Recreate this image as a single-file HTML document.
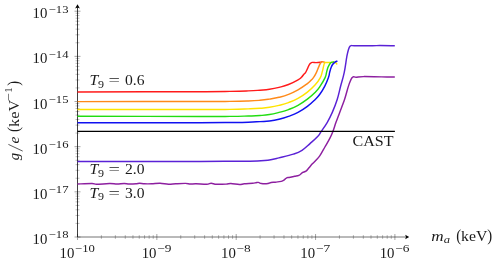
<!DOCTYPE html><html><head><meta charset="utf-8"><style>html,body{margin:0;padding:0;background:#fff}svg{display:block;will-change:transform}text{font-family:"Liberation Serif",serif;fill:#1a1a1a}</style></head><body>
<svg width="498" height="263" viewBox="0 0 498 263">
<rect width="498" height="263" fill="#fff"/>
<path d="M75.50 223.41H79.50M75.50 215.45H79.50M75.50 209.81H79.50M75.50 205.43H79.50M75.50 201.86H79.50M75.50 198.84H79.50M75.50 196.22H79.50M75.50 193.91H79.50M75.50 178.25H79.50M75.50 170.29H79.50M75.50 164.65H79.50M75.50 160.27H79.50M75.50 156.70H79.50M75.50 153.68H79.50M75.50 151.06H79.50M75.50 148.75H79.50M75.50 133.09H79.50M75.50 125.13H79.50M75.50 119.49H79.50M75.50 115.11H79.50M75.50 111.54H79.50M75.50 108.52H79.50M75.50 105.90H79.50M75.50 103.59H79.50M75.50 87.93H79.50M75.50 79.97H79.50M75.50 74.33H79.50M75.50 69.95H79.50M75.50 66.38H79.50M75.50 63.36H79.50M75.50 60.74H79.50M75.50 58.43H79.50M75.50 42.77H79.50M75.50 34.81H79.50M75.50 29.17H79.50M75.50 24.79H79.50M75.50 21.22H79.50M75.50 18.20H79.50M75.50 15.58H79.50M75.50 13.27H79.50M101.39 235.00V239.00M115.36 235.00V239.00M125.27 235.00V239.00M132.96 235.00V239.00M139.25 235.00V239.00M144.56 235.00V239.00M149.16 235.00V239.00M153.22 235.00V239.00M180.74 235.00V239.00M194.71 235.00V239.00M204.62 235.00V239.00M212.31 235.00V239.00M218.60 235.00V239.00M223.91 235.00V239.00M228.51 235.00V239.00M232.57 235.00V239.00M260.09 235.00V239.00M274.06 235.00V239.00M283.97 235.00V239.00M291.66 235.00V239.00M297.95 235.00V239.00M303.26 235.00V239.00M307.86 235.00V239.00M311.92 235.00V239.00M339.44 235.00V239.00M353.41 235.00V239.00M363.32 235.00V239.00M371.01 235.00V239.00M377.30 235.00V239.00M382.61 235.00V239.00M387.21 235.00V239.00M391.27 235.00V239.00" stroke="#707070" stroke-width="0.45" fill="none"/>
<path d="M74.50 237.00H80.50M74.50 191.84H80.50M74.50 146.68H80.50M74.50 101.52H80.50M74.50 56.36H80.50M74.50 11.20H80.50M77.50 234.00V240.00M156.85 234.00V240.00M236.20 234.00V240.00M315.55 234.00V240.00M394.90 234.00V240.00" stroke="#5a5a5a" stroke-width="0.55" fill="none"/>
<path d="M77.5 237.0V6" stroke="#000" stroke-width="0.75" fill="none"/>
<path d="M77.5 237.0H406" stroke="#000" stroke-width="0.55" fill="none"/>
<path d="M77.5 4.2L75.1 8.4L77.5 7.5L79.9 8.4Z" fill="#000"/>
<path d="M409.2 237.0L405.2 234.7L406 237.0L405.2 239.3Z" fill="#000"/>
<path d="M77.50 184.00C79.92 183.92 88.83 183.45 92.00 183.50C95.17 183.55 93.55 184.30 96.50 184.30C99.45 184.30 106.28 183.55 109.70 183.50C113.12 183.45 114.58 184.02 117.00 184.00C119.42 183.98 122.20 183.40 124.20 183.40C126.20 183.40 127.03 183.93 129.00 184.00C130.97 184.07 134.23 183.92 136.00 183.80C137.77 183.68 138.20 183.30 139.60 183.30C141.00 183.30 142.38 183.72 144.40 183.80C146.42 183.88 149.08 183.88 151.70 183.80C154.32 183.72 157.30 183.22 160.10 183.30C162.90 183.38 165.88 184.22 168.50 184.30C171.12 184.38 172.98 183.95 175.80 183.80C178.62 183.65 183.00 183.37 185.40 183.40C187.80 183.43 188.43 183.93 190.20 184.00C191.97 184.07 193.23 183.75 196.00 183.80C198.77 183.85 204.28 184.38 206.80 184.30C209.32 184.22 209.48 183.30 211.10 183.30C212.72 183.30 214.00 184.17 216.50 184.30C219.00 184.43 223.70 184.23 226.10 184.10C228.50 183.97 228.68 183.43 230.90 183.50C233.12 183.57 237.18 184.45 239.40 184.50C241.62 184.55 242.00 184.02 244.20 183.80C246.40 183.58 250.63 183.38 252.60 183.20C254.57 183.02 255.03 182.83 256.00 182.70C256.97 182.57 257.50 182.27 258.40 182.40C259.30 182.53 259.80 183.32 261.40 183.50C263.00 183.68 266.38 183.67 268.00 183.50C269.62 183.33 269.88 182.72 271.10 182.50C272.32 182.28 273.60 182.38 275.30 182.20C277.00 182.02 279.80 181.78 281.30 181.40C282.80 181.02 283.40 180.50 284.30 179.90C285.20 179.30 285.90 178.20 286.70 177.80C287.50 177.40 287.78 177.75 289.10 177.50C290.42 177.25 292.98 176.65 294.60 176.30C296.22 175.95 297.50 176.00 298.80 175.40C300.10 174.80 301.20 173.40 302.40 172.70C303.60 172.00 304.90 172.02 306.00 171.20C307.10 170.38 307.90 169.07 309.00 167.80C310.10 166.53 311.43 164.87 312.60 163.60C313.77 162.33 314.78 161.52 316.00 160.20C317.22 158.88 318.42 157.90 319.90 155.70C321.38 153.50 323.25 149.88 324.90 147.00C326.55 144.12 328.48 140.95 329.80 138.40C331.12 135.85 331.77 134.38 332.80 131.70C333.83 129.02 334.85 125.52 336.00 122.30C337.15 119.08 338.25 116.28 339.70 112.40C341.15 108.52 343.27 103.30 344.70 99.00C346.13 94.70 347.32 89.70 348.30 86.60C349.28 83.50 349.98 81.87 350.60 80.40C351.22 78.93 351.52 78.42 352.00 77.80C352.48 77.18 352.82 76.80 353.50 76.70C354.18 76.60 354.45 77.22 356.10 77.20C357.75 77.18 359.15 76.65 363.40 76.60C367.65 76.55 376.37 76.85 381.60 76.90C386.83 76.95 392.60 76.90 394.80 76.90" stroke="#8d1fa0" stroke-width="1.45" fill="none" stroke-linejoin="round" stroke-linecap="butt"/>
<path d="M77.50 161.40C102.00 161.40 169.50 161.42 200.00 161.40C230.50 161.38 220.00 161.34 230.00 161.30C240.00 161.26 243.10 161.36 250.00 161.20C256.90 161.04 260.10 160.84 264.50 160.50C268.90 160.16 269.12 160.02 272.00 159.50C274.88 158.98 274.62 158.98 278.90 157.90C283.18 156.82 288.78 155.62 293.40 154.10C298.02 152.58 298.68 152.40 302.00 150.30C305.32 148.20 306.92 146.30 310.00 143.60C313.08 140.90 315.18 139.18 317.40 136.80C319.62 134.42 319.12 134.60 321.10 131.70C323.08 128.80 325.06 126.16 327.30 122.30C329.54 118.44 330.32 116.96 332.30 112.40C334.28 107.84 335.54 104.72 337.20 99.50C338.86 94.28 339.20 91.66 340.60 86.30C342.00 80.94 342.94 78.72 344.20 72.70C345.46 66.68 346.02 60.90 346.90 56.20C347.78 51.50 347.98 51.20 348.60 49.20C349.22 47.20 349.40 46.92 350.00 46.20C350.60 45.48 350.76 45.70 351.60 45.60C352.44 45.50 350.02 45.66 354.20 45.70C358.38 45.74 367.38 45.84 372.50 45.80C377.62 45.76 375.34 45.50 379.80 45.50C384.26 45.50 391.80 45.74 394.80 45.80" stroke="#5a22d6" stroke-width="1.45" fill="none" stroke-linejoin="round" stroke-linecap="butt"/>
<path d="M77.50 91.90C106.08 91.85 164.42 91.82 200.00 91.70C235.58 91.58 218.73 91.59 230.00 91.40C241.27 91.21 241.30 91.18 248.30 90.90C255.30 90.62 255.05 90.57 260.00 90.20C264.95 89.83 265.07 89.95 269.50 89.30C273.93 88.65 274.57 88.52 279.00 87.40C283.43 86.28 284.07 86.27 288.50 84.50C292.93 82.73 294.97 81.50 298.00 79.80C301.03 78.10 300.17 78.46 301.50 77.20C302.83 75.94 302.77 75.47 303.70 74.40C304.63 73.33 304.61 73.95 305.50 72.60C306.39 71.25 306.66 70.35 307.50 68.60C308.34 66.85 308.40 66.34 309.10 65.10C309.80 63.86 309.75 63.93 310.50 63.30C311.25 62.67 310.99 62.56 312.30 62.40C313.61 62.24 314.28 62.62 316.10 62.60C317.92 62.58 318.70 62.49 320.10 62.30C321.50 62.11 321.63 61.92 322.10 61.80" stroke="#ff1a1a" stroke-width="1.45" fill="none" stroke-linejoin="round" stroke-linecap="butt"/>
<path d="M77.50 101.60C106.08 101.58 164.42 101.55 200.00 101.50C235.58 101.45 218.73 101.52 230.00 101.40C241.27 101.28 241.30 101.26 248.30 101.00C255.30 100.74 255.05 100.74 260.00 100.30C264.95 99.86 265.07 99.80 269.50 99.10C273.93 98.40 274.57 98.40 279.00 97.30C283.43 96.20 284.07 96.13 288.50 94.40C292.93 92.67 293.59 92.42 298.00 89.90C302.41 87.38 304.25 85.96 307.40 83.60C310.55 81.24 310.05 81.25 311.50 79.80C312.95 78.35 312.53 78.96 313.60 77.40C314.67 75.84 314.93 75.50 316.10 73.10C317.27 70.70 317.55 69.46 318.60 67.10C319.65 64.74 319.67 64.24 320.60 63.00C321.53 61.76 321.55 61.92 322.60 61.80C323.65 61.68 324.52 62.34 325.10 62.50" stroke="#ff8a1a" stroke-width="1.45" fill="none" stroke-linejoin="round" stroke-linecap="butt"/>
<path d="M77.50 109.50C106.08 109.50 164.42 109.52 200.00 109.50C235.58 109.48 218.73 109.54 230.00 109.40C241.27 109.26 241.30 109.16 248.30 108.90C255.30 108.64 255.05 108.67 260.00 108.30C264.95 107.93 265.07 107.98 269.50 107.30C273.93 106.62 274.57 106.50 279.00 105.40C283.43 104.30 284.07 104.23 288.50 102.60C292.93 100.97 293.59 100.85 298.00 98.40C302.41 95.95 303.43 95.20 307.40 92.10C311.37 89.00 312.01 88.44 315.00 85.10C317.99 81.76 318.50 80.95 320.20 77.80C321.90 74.65 321.51 74.33 322.30 71.60C323.09 68.87 323.06 68.06 323.60 66.10C324.14 64.14 324.02 64.04 324.60 63.20C325.18 62.36 324.82 62.66 326.10 62.50C327.38 62.34 327.98 62.50 330.10 62.50C332.22 62.50 333.54 62.03 335.20 62.50C336.86 62.97 336.73 64.03 337.20 64.50" stroke="#ffe400" stroke-width="1.45" fill="none" stroke-linejoin="round" stroke-linecap="butt"/>
<path d="M77.50 116.30C106.08 116.32 164.42 116.38 200.00 116.40C235.58 116.42 218.73 116.49 230.00 116.40C241.27 116.31 241.30 116.21 248.30 116.00C255.30 115.79 255.05 115.85 260.00 115.50C264.95 115.15 265.07 115.22 269.50 114.50C273.93 113.78 274.57 113.54 279.00 112.40C283.43 111.26 284.07 111.23 288.50 109.60C292.93 107.97 293.59 107.85 298.00 105.40C302.41 102.95 303.43 102.11 307.40 99.10C311.37 96.09 312.06 95.46 315.00 92.50C317.94 89.54 317.64 89.88 320.00 86.40C322.36 82.92 323.56 80.94 325.10 77.60C326.64 74.26 325.90 74.55 326.60 72.10C327.30 69.65 327.28 69.11 328.10 67.10C328.92 65.09 329.17 64.64 330.10 63.50C331.03 62.36 331.14 62.60 332.10 62.20C333.06 61.80 333.71 61.89 334.20 61.80" stroke="#22dd11" stroke-width="1.45" fill="none" stroke-linejoin="round" stroke-linecap="butt"/>
<path d="M77.50 122.80C106.08 122.78 164.42 122.77 200.00 122.70C235.58 122.63 218.73 122.62 230.00 122.50C241.27 122.38 241.30 122.41 248.30 122.20C255.30 121.99 255.05 121.88 260.00 121.60C264.95 121.32 265.07 121.54 269.50 121.00C273.93 120.46 274.57 120.37 279.00 119.30C283.43 118.23 284.07 118.01 288.50 116.40C292.93 114.79 293.59 114.73 298.00 112.40C302.41 110.07 303.43 109.36 307.40 106.40C311.37 103.44 312.06 102.59 315.00 99.70C317.94 96.81 317.71 97.17 320.00 94.00C322.29 90.83 322.79 90.04 324.80 86.10C326.81 82.16 327.48 80.25 328.60 77.10C329.72 73.95 329.02 74.82 329.60 72.60C330.18 70.38 330.40 69.49 331.10 67.60C331.80 65.71 331.76 65.74 332.60 64.50C333.44 63.26 333.58 63.12 334.70 62.30C335.82 61.48 336.77 61.30 337.40 61.00" stroke="#1010f0" stroke-width="1.45" fill="none" stroke-linejoin="round" stroke-linecap="butt"/>
<path d="M77.5 131.3 L394.9 131.3" stroke="#000" stroke-width="1.3" fill="none" stroke-linejoin="round" stroke-linecap="butt"/>
<text x="32.60" y="244.10" font-size="14.1" textLength="14.8" lengthAdjust="spacingAndGlyphs">10</text>
<text x="48.70" y="238.30" font-size="11.3" textLength="19.8" lengthAdjust="spacingAndGlyphs">−18</text>
<text x="32.60" y="198.94" font-size="14.1" textLength="14.8" lengthAdjust="spacingAndGlyphs">10</text>
<text x="48.70" y="193.14" font-size="11.3" textLength="19.8" lengthAdjust="spacingAndGlyphs">−17</text>
<text x="32.60" y="153.78" font-size="14.1" textLength="14.8" lengthAdjust="spacingAndGlyphs">10</text>
<text x="48.70" y="147.98" font-size="11.3" textLength="19.8" lengthAdjust="spacingAndGlyphs">−16</text>
<text x="32.60" y="108.62" font-size="14.1" textLength="14.8" lengthAdjust="spacingAndGlyphs">10</text>
<text x="48.70" y="102.82" font-size="11.3" textLength="19.8" lengthAdjust="spacingAndGlyphs">−15</text>
<text x="32.60" y="63.46" font-size="14.1" textLength="14.8" lengthAdjust="spacingAndGlyphs">10</text>
<text x="48.70" y="57.66" font-size="11.3" textLength="19.8" lengthAdjust="spacingAndGlyphs">−14</text>
<text x="32.60" y="18.30" font-size="14.1" textLength="14.8" lengthAdjust="spacingAndGlyphs">10</text>
<text x="48.70" y="12.50" font-size="11.3" textLength="19.8" lengthAdjust="spacingAndGlyphs">−13</text>
<text x="59.50" y="258.20" font-size="14.1" textLength="14.8" lengthAdjust="spacingAndGlyphs">10</text>
<text x="75.10" y="251.90" font-size="11.3" textLength="19.8" lengthAdjust="spacingAndGlyphs">−10</text>
<text x="141.65" y="258.20" font-size="14.1" textLength="14.8" lengthAdjust="spacingAndGlyphs">10</text>
<text x="157.25" y="251.90" font-size="11.3" textLength="14.2" lengthAdjust="spacingAndGlyphs">−9</text>
<text x="221.00" y="258.20" font-size="14.1" textLength="14.8" lengthAdjust="spacingAndGlyphs">10</text>
<text x="236.60" y="251.90" font-size="11.3" textLength="14.2" lengthAdjust="spacingAndGlyphs">−8</text>
<text x="300.35" y="258.20" font-size="14.1" textLength="14.8" lengthAdjust="spacingAndGlyphs">10</text>
<text x="315.95" y="251.90" font-size="11.3" textLength="14.2" lengthAdjust="spacingAndGlyphs">−7</text>
<text x="379.70" y="258.20" font-size="14.1" textLength="14.8" lengthAdjust="spacingAndGlyphs">10</text>
<text x="395.30" y="251.90" font-size="11.3" textLength="14.2" lengthAdjust="spacingAndGlyphs">−6</text>
<text x="89.60" y="85.00" font-size="14.1" font-style="italic" textLength="8.8" lengthAdjust="spacingAndGlyphs">T</text>
<text x="98.00" y="87.60" font-size="11.3" textLength="6.0" lengthAdjust="spacingAndGlyphs">9</text>
<text x="108.60" y="85.00" font-size="14.1" textLength="11.4" lengthAdjust="spacingAndGlyphs">=</text>
<text x="125.00" y="85.00" font-size="14.1" textLength="19.5" lengthAdjust="spacingAndGlyphs">0.6</text>
<text x="89.60" y="173.90" font-size="14.1" font-style="italic" textLength="8.8" lengthAdjust="spacingAndGlyphs">T</text>
<text x="98.00" y="176.50" font-size="11.3" textLength="6.0" lengthAdjust="spacingAndGlyphs">9</text>
<text x="108.60" y="173.90" font-size="14.1" textLength="11.4" lengthAdjust="spacingAndGlyphs">=</text>
<text x="125.00" y="173.90" font-size="14.1" textLength="19.5" lengthAdjust="spacingAndGlyphs">2.0</text>
<text x="89.60" y="197.70" font-size="14.1" font-style="italic" textLength="8.8" lengthAdjust="spacingAndGlyphs">T</text>
<text x="98.00" y="200.30" font-size="11.3" textLength="6.0" lengthAdjust="spacingAndGlyphs">9</text>
<text x="108.60" y="197.70" font-size="14.1" textLength="11.4" lengthAdjust="spacingAndGlyphs">=</text>
<text x="125.00" y="197.70" font-size="14.1" textLength="19.5" lengthAdjust="spacingAndGlyphs">3.0</text>
<text x="352.50" y="146.10" font-size="14.1" textLength="41" lengthAdjust="spacingAndGlyphs">CAST</text>
<text x="431.30" y="241.20" font-size="14.1" font-style="italic" textLength="12.4" lengthAdjust="spacingAndGlyphs">m</text>
<text x="443.80" y="243.20" font-size="11.3" font-style="italic" textLength="6.3" lengthAdjust="spacingAndGlyphs">a</text>
<text x="456.30" y="241.20" font-size="16.3" textLength="4.9" lengthAdjust="spacingAndGlyphs">(</text>
<text x="461.00" y="241.20" font-size="14.1" textLength="26.3" lengthAdjust="spacingAndGlyphs">keV</text>
<text x="487.30" y="241.20" font-size="16.3" textLength="4.9" lengthAdjust="spacingAndGlyphs">)</text>
<g transform="translate(19.2 160.3) rotate(-90)">
<text x="0.00" y="0.00" font-size="14.1" font-style="italic" textLength="7.3" lengthAdjust="spacingAndGlyphs">g</text>
<path d="M9.2 3.5L15.9 -10.8" stroke="#111" stroke-width="0.7" fill="none"/>
<text x="16.70" y="0.00" font-size="14.1" font-style="italic" textLength="6.8" lengthAdjust="spacingAndGlyphs">e</text>
<text x="28.30" y="0.00" font-size="16.3" textLength="4.9" lengthAdjust="spacingAndGlyphs">(</text>
<text x="33.40" y="0.00" font-size="14.1" textLength="27" lengthAdjust="spacingAndGlyphs">keV</text>
<text x="59.10" y="-7.00" font-size="11.3" textLength="8.0" lengthAdjust="spacingAndGlyphs">−</text>
<text x="67.60" y="-7.00" font-size="11.3" textLength="5.5" lengthAdjust="spacingAndGlyphs">1</text>
<text x="74.50" y="0.00" font-size="16.3" textLength="4.9" lengthAdjust="spacingAndGlyphs">)</text>
</g>
</svg></body></html>
